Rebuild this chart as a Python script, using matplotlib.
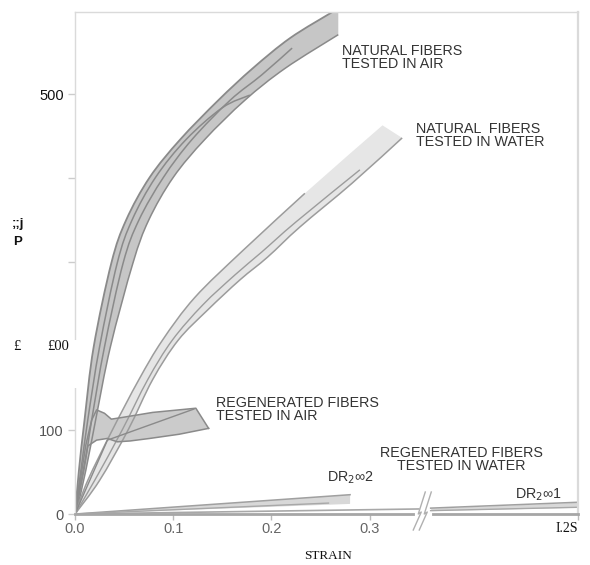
import numpy as np
import matplotlib
matplotlib.use("Agg")
import matplotlib.pyplot as plt
from matplotlib.patches import Rectangle, PathPatch
from matplotlib.path import Path
from matplotlib.lines import Line2D
from matplotlib.transforms import blended_transform_factory, IdentityTransform

plt.rcParams['font.family'] = ['Liberation Sans', 'DejaVu Sans']

# ---------------- data (strain, stress) ----------------
# Natural fibers tested in air (band)
NAT_AIR_UP_STRAIN = [0, 0.004, 0.0097, 0.019, 0.037, 0.052, 0.076, 0.107, 0.146, 0.181, 0.219, 0.262]
NAT_AIR_UP_STRESS = [0, 52, 112, 199, 299, 350, 401, 446, 493, 531, 567, 598]
NAT_AIR_TOP_STRAIN = [0.268]
NAT_AIR_TOP_STRESS = [598]
NAT_AIR_LO_STRAIN = [0.268, 0.214, 0.173, 0.132, 0.100, 0.075, 0.059, 0.036, 0.021, 0.011, 0.001]
NAT_AIR_LO_STRESS = [571, 531, 493, 446, 401, 350, 299, 199, 112, 52, 0]
NAT_AIR_B_STRAIN = [0, 0.009, 0.017, 0.030, 0.049, 0.065, 0.090, 0.119, 0.158, 0.190, 0.221]
NAT_AIR_B_STRESS = [0, 52, 112, 199, 299, 350, 401, 446, 493, 523, 555]
NAT_AIR_C_STRAIN = [0, 0.006, 0.013, 0.025, 0.043, 0.058, 0.082, 0.113, 0.150, 0.178]
NAT_AIR_C_STRESS = [0, 52, 112, 199, 299, 350, 401, 446, 484, 499]

# Natural fibers tested in water (band)
NAT_WAT_UP_STRAIN = [0, 0.013, 0.038, 0.065, 0.089, 0.122, 0.171, 0.234, 0.313]
NAT_WAT_UP_STRESS = [0, 40, 100, 160, 207, 258, 314, 382, 463]
NAT_WAT_LO_STRAIN = [0, 0.025, 0.054, 0.079, 0.105, 0.135, 0.168, 0.196, 0.229, 0.282, 0.333]
NAT_WAT_LO_STRESS = [0, 40, 100, 160, 207, 243, 279, 306, 342, 394, 448]
NAT_WAT_L2_STRAIN = [0, 0.020, 0.048, 0.074, 0.099, 0.130, 0.163, 0.190, 0.225, 0.290]
NAT_WAT_L2_STRESS = [0, 40, 100, 160, 207, 249, 285, 312, 348, 410]

# Regenerated fibers tested in air (band)
REG_AIR_UP_STRAIN = [0, 0.011, 0.017, 0.022, 0.030, 0.037, 0.048, 0.079, 0.123]
REG_AIR_UP_STRESS = [0, 82, 112, 124, 120, 113, 115, 121, 126]
REG_AIR_LO_STRAIN = [0, 0.013, 0.022, 0.033, 0.043, 0.056, 0.076, 0.106, 0.136]
REG_AIR_LO_STRESS = [0, 81, 88, 90, 86, 87, 90, 95, 102]
REG_AIR_D_STRAIN = [0, 0.033, 0.121]
REG_AIR_D_STRESS = [0, 88, 125]

# Regenerated fibers tested in water
REG_W2_UP_STRAIN = [0, 0.280]
REG_W2_UP_STRESS = [0, 23]
REG_W2_MID_STRAIN = [0, 0.258]
REG_W2_MID_STRESS = [0, 13]
REG_W_BASE_STRAIN = [0, 0.350]
REG_W_BASE_STRESS = [0, 6]
REG_W1_UP_STRAIN = [1.100, 1.250]
REG_W1_UP_STRESS = [7, 14]
REG_W1_LO_STRAIN = [1.100, 1.250]
REG_W1_LO_STRESS = [4, 8]

X_TICKS = [0.0, 0.1, 0.2, 0.3, 1.25]
X_TICK_LABELS = ['0.0', '0.1', '0.2', '0.3', 'I.2S']
Y_TICKS = [0, 100, 200, 300, 400, 500]
Y_TICK_LABELS = ['0', '100', '£00', '', '', '500']

# ---------------- broken x scale ----------------
BREAK_LO, BREAK_HI = 0.352, 1.095
XP = [-1.0, BREAK_LO, BREAK_HI, 3.0]
FP = [-1.0, BREAK_LO, BREAK_LO + 0.005, BREAK_LO + 0.005 + (3.0 - BREAK_HI)]


def fwd(x):
    return np.interp(x, XP, FP)


def inv(y):
    return np.interp(y, FP, XP)


def smooth_segments(xs, ys):
    """Catmull-Rom curve through the read points, as cubic Bezier segments."""
    P = np.column_stack([xs, ys]).astype(float)
    n = len(P)
    verts, codes = [P[0]], [Path.MOVETO]
    for i in range(n - 1):
        p0 = P[i - 1] if i > 0 else P[i]
        p1, p2 = P[i], P[i + 1]
        p3 = P[i + 2] if i + 2 < n else P[i + 1]
        verts += [p1 + (p2 - p0) / 6.0, p2 - (p3 - p1) / 6.0, p2]
        codes += [Path.CURVE4] * 3
    return verts, codes


def smooth_line(ax, xs, ys, **kw):
    v, c = smooth_segments(xs, ys)
    ax.add_patch(PathPatch(Path(v, c), fill=False, **kw))


def smooth_band(ax, xs1, ys1, xs2, ys2, jx=(), jy=(), **kw):
    v1, c1 = smooth_segments(xs1, ys1)
    v2, c2 = smooth_segments(xs2, ys2)
    c2 = [Path.LINETO] + c2[1:]
    vj = [np.array([a, b], float) for a, b in zip(jx, jy)]
    v = v1 + vj + v2 + [v1[0]]
    c = c1 + [Path.LINETO] * len(vj) + c2 + [Path.CLOSEPOLY]
    ax.add_patch(PathPatch(Path(v, c), **kw))


fig = plt.figure(figsize=(5.9, 5.65), dpi=100)
ax = fig.add_axes([75 / 590, 51 / 565, 503 / 590, 502 / 565])
ax.set_xscale('function', functions=(fwd, inv))
ax.set_xlim(0, 1.25)
ax.set_ylim(0, 598)

EDGE_DARK = '#8a8a8a'
EDGE_MID = '#9c9c9c'

# natural in air
smooth_band(ax, NAT_AIR_UP_STRAIN, NAT_AIR_UP_STRESS, NAT_AIR_LO_STRAIN, NAT_AIR_LO_STRESS,
            NAT_AIR_TOP_STRAIN, NAT_AIR_TOP_STRESS,
            facecolor='#c6c6c6', edgecolor='none', lw=0, zorder=1)
smooth_line(ax, NAT_AIR_UP_STRAIN, NAT_AIR_UP_STRESS, edgecolor=EDGE_DARK, lw=1.3, zorder=2)
smooth_line(ax, NAT_AIR_LO_STRAIN, NAT_AIR_LO_STRESS, edgecolor=EDGE_DARK, lw=1.1, zorder=2)
smooth_line(ax, NAT_AIR_B_STRAIN, NAT_AIR_B_STRESS, edgecolor=EDGE_DARK, lw=1.1, zorder=2)
smooth_line(ax, NAT_AIR_C_STRAIN, NAT_AIR_C_STRESS, edgecolor=EDGE_DARK, lw=1.1, zorder=2)

# natural in water
smooth_band(ax, NAT_WAT_UP_STRAIN, NAT_WAT_UP_STRESS, NAT_WAT_LO_STRAIN[::-1], NAT_WAT_LO_STRESS[::-1],
            facecolor='#e6e6e6', edgecolor='none', lw=0, zorder=1)
smooth_line(ax, NAT_WAT_UP_STRAIN[:8], NAT_WAT_UP_STRESS[:8], edgecolor=EDGE_MID, lw=1.1, zorder=2)
smooth_line(ax, NAT_WAT_LO_STRAIN, NAT_WAT_LO_STRESS, edgecolor=EDGE_MID, lw=1.1, zorder=2)
smooth_line(ax, NAT_WAT_L2_STRAIN, NAT_WAT_L2_STRESS, edgecolor=EDGE_MID, lw=1.0, zorder=2)

# regenerated in air
ax.fill(REG_AIR_UP_STRAIN[1:] + REG_AIR_LO_STRAIN[1:][::-1],
        REG_AIR_UP_STRESS[1:] + REG_AIR_LO_STRESS[1:][::-1],
        color='#cbcbcb', lw=0, zorder=1.5)
ax.plot(REG_AIR_UP_STRAIN + [REG_AIR_LO_STRAIN[-1]], REG_AIR_UP_STRESS + [REG_AIR_LO_STRESS[-1]],
        color=EDGE_DARK, lw=1.1, zorder=2)
ax.plot(REG_AIR_LO_STRAIN, REG_AIR_LO_STRESS, color=EDGE_DARK, lw=1.1, zorder=2)
ax.plot(REG_AIR_D_STRAIN, REG_AIR_D_STRESS, color=EDGE_DARK, lw=1.0, zorder=2)

# regenerated in water
ax.fill(REG_W2_UP_STRAIN + [REG_W2_UP_STRAIN[-1]], REG_W2_UP_STRESS + [REG_W2_MID_STRESS[-1] - 1],
        color='#d8d8d8', lw=0, zorder=1)
ax.plot(REG_W2_UP_STRAIN, REG_W2_UP_STRESS, color='#a0a0a0', lw=1.1, zorder=2)
ax.plot(REG_W2_MID_STRAIN, REG_W2_MID_STRESS, color='#a8a8a8', lw=1.0, zorder=2)
ax.plot(REG_W_BASE_STRAIN, REG_W_BASE_STRESS, color='#a8a8a8', lw=1.2, zorder=2)
ax.fill_between(REG_W1_UP_STRAIN, REG_W1_LO_STRESS, REG_W1_UP_STRESS, color='#d8d8d8', lw=0, zorder=1)
ax.plot(REG_W1_UP_STRAIN, REG_W1_UP_STRESS, color='#a0a0a0', lw=1.1, zorder=2)
ax.plot(REG_W1_LO_STRAIN, REG_W1_LO_STRESS, color='#a8a8a8', lw=1.0, zorder=2)

# ---------------- axes styling ----------------
for side in ['left', 'top', 'right']:
    ax.spines[side].set_color('#dadada')
    ax.spines[side].set_linewidth(1.0)
ax.spines['right'].set_linewidth(1.6)
ax.spines['bottom'].set_color('#a6a6a6')
ax.spines['bottom'].set_linewidth(2.0)

ax.set_xticks(X_TICKS)
ax.set_xticklabels(X_TICK_LABELS)
ax.set_yticks(Y_TICKS)
ax.set_yticklabels(['' if l == Y_TICK_LABELS[2] else l for l in Y_TICK_LABELS])
ax.tick_params(axis='x', length=4, width=1, color='#bbbbbb', labelsize=10.5,
               labelcolor='#666666', pad=2)
ax.tick_params(axis='y', length=5, width=1, color='#cccccc', labelsize=10.5,
               labelcolor='#555555', pad=3)
ylabels = ax.get_yticklabels()
ylabels[5].set_color('#111111')
xlabels = ax.get_xticklabels()
xlabels[-1].set_fontfamily('Liberation Serif')
xlabels[-1].set_color('#111111')
xlabels[-1].set_fontsize(10)
xlabels[-1].set_horizontalalignment('right')

# OCR white box over the 200 label and its label
bt = blended_transform_factory(ax.transAxes, ax.transData)
ax.add_patch(Rectangle((-0.09, 150), 0.11, 57, transform=bt, facecolor='white',
                       edgecolor='none', zorder=3, clip_on=False))
ax.text(-0.012, 200, Y_TICK_LABELS[2], transform=bt, ha='right', va='center',
        fontsize=10.5, family='Liberation Serif', color='#111111', zorder=4, clip_on=False)
fig.text(17 / 590, 1 - 347 / 565, '£', fontsize=10.5, family='Liberation Serif',
         color='#111111', ha='center', va='center', zorder=5)
fig.text(18 / 590, 1 - 224 / 565, ';;j', fontsize=9.5, weight='bold', color='#111111',
         ha='center', va='center')
fig.text(18 / 590, 1 - 242 / 565, 'P', fontsize=9.5, weight='bold', color='#111111',
         ha='center', va='center')
fig.text(328 / 590, 1 - 556 / 565, 'STRAIN', fontsize=9.5, family='Liberation Serif',
         color='#111111', ha='center', va='center')

# annotations
TXT = dict(fontsize=10.3, color='#333333', linespacing=0.92, va='center')
ax.text(0.272, 544, 'NATURAL FIBERS\nTESTED IN AIR', ha='left', **TXT)
ax.text(0.347, 451, 'NATURAL  FIBERS\nTESTED IN WATER', ha='left', **TXT)
ax.text(0.144, 124, 'REGENERATED FIBERS\nTESTED IN AIR', ha='left', **TXT)
ax.text(1.131, 65, 'REGENERATED FIBERS\nTESTED IN WATER', ha='center', multialignment='center', **TXT)
ax.text(0.257, 43, 'DR$_2$\u221e2', ha='left', fontsize=10.3, color='#333333', va='center')
ax.text(1.186, 23, 'DR$_2$\u221e1', ha='left', fontsize=10.3, color='#333333', va='center')

# axis break mark
BREAK_MID = 0.5 * (BREAK_LO + BREAK_HI)
cx, cy = ax.transData.transform((BREAK_MID, 0))
fig.add_artist(Line2D([cx - 6, cx + 7], [cy, cy], transform=IdentityTransform(),
                      color='white', lw=3, zorder=5))
for dx in (-3, 3):
    fig.add_artist(Line2D([cx + dx - 7, cx + dx + 1, cx + dx - 2, cx + dx + 5],
                          [cy - 16, cy + 2, cy + 0, cy + 22], transform=IdentityTransform(),
                          color='#b0b0b0', lw=1.0, zorder=6))

fig.savefig('out.png', dpi=100, facecolor='white')
